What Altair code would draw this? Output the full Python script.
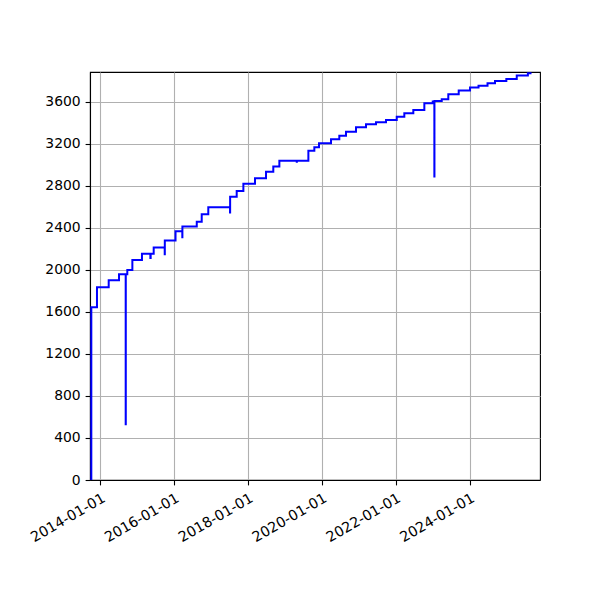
import altair as alt
import pandas as pd

dates = [
    "2013-10-03", "2013-10-04", "2013-11-29", "2014-03-25", "2014-07-05",
    "2014-09-09", "2014-09-10", "2014-09-25", "2014-11-14", "2015-02-17",
    "2015-05-11", "2015-05-14", "2015-06-13", "2015-09-30", "2015-10-01",
    "2016-01-15", "2016-03-22", "2016-03-23", "2016-08-12", "2016-09-30",
    "2016-12-04", "2017-07-07", "2017-07-08", "2017-09-11", "2017-11-16",
    "2018-03-11", "2018-06-28", "2018-09-08", "2018-11-07", "2019-04-28",
    "2019-04-29", "2019-08-21", "2019-10-19", "2019-12-04", "2020-04-01",
    "2020-06-22", "2020-08-27", "2020-12-04", "2021-03-13", "2021-06-20",
    "2021-09-27", "2022-01-11", "2022-03-27", "2022-06-24", "2022-10-11",
    "2023-01-02", "2023-01-18", "2023-01-19", "2023-04-01", "2023-06-05",
    "2023-09-16", "2024-01-06", "2024-03-30", "2024-06-27", "2024-09-09",
    "2024-12-30", "2025-04-12", "2025-07-31", "2025-09-05",
]
values = [
    0, 1645, 1835, 1902, 1959,
    530, 1959, 2000, 2095, 2155,
    2115, 2155, 2213, 2150, 2280,
    2368, 2311, 2413, 2460, 2530,
    2597, 2546, 2698, 2752, 2822,
    2873, 2936, 2984, 3041, 3030,
    3041, 3136, 3168, 3206, 3244,
    3279, 3317, 3359, 3387, 3406,
    3429, 3460, 3492, 3524, 3587,
    3603, 2890, 3610, 3626, 3673,
    3708, 3737, 3755, 3778, 3800,
    3819, 3851, 3873, 3873,
]
x_tick_years = [2014, 2016, 2018, 2020, 2022, 2024]
y_ticks = [0, 400, 800, 1200, 1600, 2000, 2400, 2800, 3200, 3600]

df = pd.DataFrame({"date": dates, "value": values})

font = "DejaVu Sans"

chart = alt.Chart(df).mark_line(
    color="#0000ff", strokeWidth=2, interpolate="step-after", clip=True
).encode(
    x=alt.X(
        "date:T",
        scale=alt.Scale(
            type="utc",
            domain=[
                alt.DateTime(year=2013, month=9, date=21, utc=True),
                alt.DateTime(year=2025, month=11, date=28, utc=True),
            ],
            nice=False,
        ),
        axis=alt.Axis(
            title=None,
            values=[alt.DateTime(year=y, month=1, date=1, utc=True) for y in x_tick_years],
            format="%Y-%m-%d",
            labelAngle=-30,
            labelAlign="right",
            labelBaseline="top",
            labelPadding=6,
            labelFontSize=14.3,
            labelOverlap=False,
            labelFlush=False,
        ),
    ),
    y=alt.Y(
        "value:Q",
        scale=alt.Scale(domain=[0, 3885], nice=False, zero=True),
        axis=alt.Axis(
            title=None,
            values=y_ticks,
            format="d",
        ),
    ),
).properties(
    width=450,
    height=408,
    autosize=alt.AutoSizeParams(type="none"),
    padding={"left": 82, "top": 64, "right": 20, "bottom": 90},
).configure_axis(
    grid=True,
    gridColor="#b0b0b0",
    gridWidth=1.1,
    domainColor="black",
    domainWidth=1.1,
    tickColor="black",
    tickSize=4.9,
    tickWidth=1.1,
    labelFont=font,
    labelFontSize=13.9,
    labelColor="black",
    labelPadding=4.9,
).configure_view(
    stroke="black",
    strokeWidth=1.1,
)

chart.save("out.html", embed_options={"renderer": "svg", "actions": False})
